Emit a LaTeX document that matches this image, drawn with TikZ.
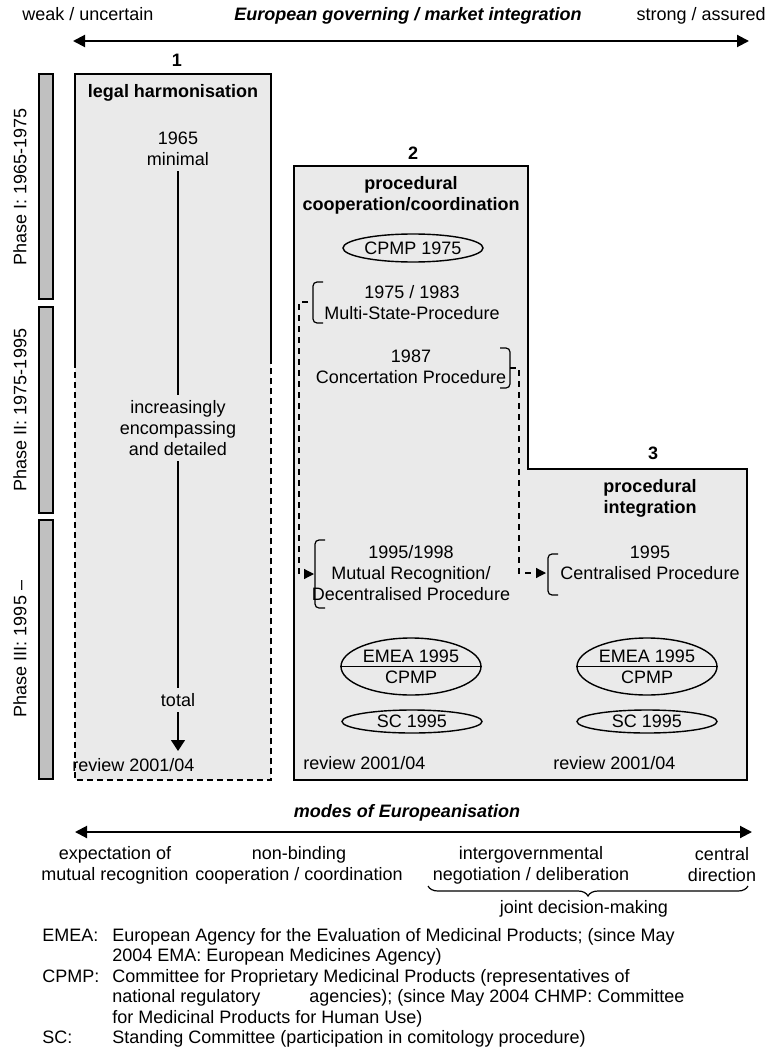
\documentclass[tikz,border=0pt]{standalone}
\usepackage{fontspec}
\setmainfont{Liberation Sans}
\usetikzlibrary{shapes.geometric,arrows.meta,decorations.pathreplacing}
\definecolor{boxgray}{RGB}{234,234,234}
\definecolor{bargray}{RGB}{192,192,192}

\begin{document}
\begin{tikzpicture}[x=0.5pt,y=-0.5pt,
	every node/.style={font=\fontsize{9}{10.5}\selectfont, align=center, inner sep=2.5pt},
	bold/.style={font=\fontsize{9}{10.5}\selectfont\bfseries},
	boldit/.style={font=\fontsize{9}{10.5}\selectfont\bfseries\itshape},
	boxline/.style={line width=1pt},
	boxdash/.style={line width=1pt, dash pattern=on 3pt off 2pt},
	phasebar/.style={line width=1pt, fill=bargray},
	brk/.style={line width=0.6pt, rounded corners=2pt},
	link/.style={line width=0.6pt, dash pattern=on 3pt off 2.5pt, -{Triangle[length=5pt,width=5pt]}},
	axis/.style={line width=1pt, {Triangle[length=6pt,width=6pt]}-{Triangle[length=6pt,width=6pt]}},
	agency/.style={draw, ellipse, line width=0.7pt, inner sep=0pt, minimum width=70pt},
	legend/.style={anchor=base west, inner sep=0pt}
	]

	\useasboundingbox (0,0) rectangle (771,1048);

	% integration axis
	\coordinate (weak) at (73,41);
	\coordinate (strong) at (749,41);
	\draw[axis] (weak) -- (strong);
	\node[anchor=base west, inner sep=0pt] (wlab) at (22,21) {weak / uncertain};
	\node[boldit, anchor=base, inner sep=0pt] (ilab) at (408,21) {European governing / market integration};
	\node[anchor=base east, inner sep=0pt] (slab) at (766,21) {strong / assured};

	% phases
	\draw[phasebar] (39,74) rectangle (53,299);
	\draw[phasebar] (39,307) rectangle (53,513);
	\draw[phasebar] (39,520) rectangle (53,779);
	\node[rotate=90] (ph1) at (20,187) {Phase I: 1965-1975};
	\node[rotate=90] (ph2) at (20,410) {Phase II: 1975-1995};
	\node[rotate=90] (ph3) at (20,649) {Phase III: 1995 --};

	% box 1
	\fill[boxgray] (75,74) rectangle (271,780);
	\draw[boxline] (75,362) -- (75,74) -- (271,74) -- (271,362);
	\draw[boxdash] (75,362) -- (75,780) -- (271,780) -- (271,362);
	\node[bold] (n1) at (177,60) {1};
	\node[bold] (legal) at (173,93) {legal harmonisation};
	\node (minimal) at (178,149) {1965\\minimal};
	\node (encomp) at (178,428) {increasingly\\encompassing\\and detailed};
	\node (total) at (178,700) {total};
	\coordinate (full) at (178,751);
	\draw[line width=0.6pt] (minimal) -- (encomp);
	\draw[line width=0.6pt] (encomp) -- (total);
	\draw[line width=0.6pt, -{Triangle[length=5.5pt,width=7pt]}] (total) -- (full);
	\node[anchor=base west, inner sep=0pt] (rev1) at (72,771) {review 2001/04};

	% boxes 2 and 3
	\draw[boxline, fill=boxgray] (294,166) -- (528,166) -- (528,469) -- (747,469) -- (747,780) -- (294,780) -- cycle;
	\node[bold] (n2) at (413,153) {2};
	\node[bold] (n3) at (653,453) {3};
	\node[bold] (coop) at (411,195.5) {procedural\\cooperation/coordination};
	\node[bold] (integ) at (650,498) {procedural\\integration};

	\node[agency, minimum height=14pt] (cpmp) at (413,248) {CPMP 1975};

	\node (msp) at (412,302.5) {1975 / 1983\\Multi-State-Procedure};
	\draw[brk] (323,282) -- (313,282) -- (313,323) -- (323,323);
	\coordinate (mspin) at (308,302);

	\node (concert) at (411,366.5) {1987\\Concertation Procedure};
	\draw[brk] (500,348) -- (510,348) -- (510,388) -- (500,388);
	\coordinate (concertin) at (510,368);

	\node (mutual) at (411,573) {1995/1998\\Mutual Recognition/\\Decentralised Procedure};
	\draw[brk] (325,540) -- (315,540) -- (315,608) -- (325,608);
	\coordinate (mutualin) at (314,574);

	\node (central) at (650,562.5) {1995\\Centralised Procedure};
	\draw[brk] (558,554) -- (548,554) -- (548,595) -- (558,595);
	\coordinate (centralin) at (546,573);

	\draw[link] (mspin) -- ++(-9,0) |- (mutualin);
	\draw[link] (concertin) -- ++(9,0) |- (centralin);

	\node[agency, minimum height=28.5pt] (emea2) at (411,666.5) {EMEA 1995\\CPMP};
	\draw[line width=0.7pt] (emea2.west) -- (emea2.east);
	\node[agency, minimum height=28.5pt] (emea3) at (647,666.5) {EMEA 1995\\CPMP};
	\draw[line width=0.7pt] (emea3.west) -- (emea3.east);
	\node[agency, minimum height=11.5pt] (sc2) at (412,721.5) {SC 1995};
	\node[agency, minimum height=11.5pt] (sc3) at (647,721.5) {SC 1995};

	\node[anchor=base west, inner sep=0pt] (rev2) at (303,769) {review 2001/04};
	\node[anchor=base west, inner sep=0pt] (rev3) at (553,769) {review 2001/04};

	% modes axis
	\node[boldit] (modes) at (407,813) {modes of Europeanisation};
	\coordinate (mleft) at (75,832);
	\coordinate (mright) at (752,832);
	\draw[axis] (mleft) -- (mright);
	\node (expect) at (115,865) {expectation of\\mutual recognition};
	\node (nonbind) at (299,865) {non-binding\\cooperation / coordination};
	\node (intergov) at (531,865) {intergovernmental\\negotiation / deliberation};
	\node (direct) at (722,865) {central\\direction};
	\draw[line width=0.6pt, decorate, decoration={brace, amplitude=5pt}] (748,886) -- (428,886);
	\node (joint) at (584,909) {joint decision-making};

	% legend
	\node[legend] (k1) at (42,941) {EMEA:};
	\node[legend] (d1) at (112,941) {European Agency for the Evaluation of Medicinal Products; (since May};
	\node[legend] (d1b) at (112,961.5) {2004 EMA: European Medicines Agency)};
	\node[legend] (k2) at (42,982) {CPMP:};
	\node[legend] (d2) at (112,982) {Committee for Proprietary Medicinal Products (representatives of};
	\node[legend] (d2b) at (112,1002.5) {national regulatory};
	\node[legend] (d2c) at (309,1002.5) {agencies); (since May 2004 CHMP: Committee};
	\node[legend] (d2d) at (112,1023) {for Medicinal Products for Human Use)};
	\node[legend] (k3) at (42,1043.5) {SC:};
	\node[legend] (d3) at (112,1043.5) {Standing Committee (participation in comitology procedure)};
\end{tikzpicture}
\end{document}
